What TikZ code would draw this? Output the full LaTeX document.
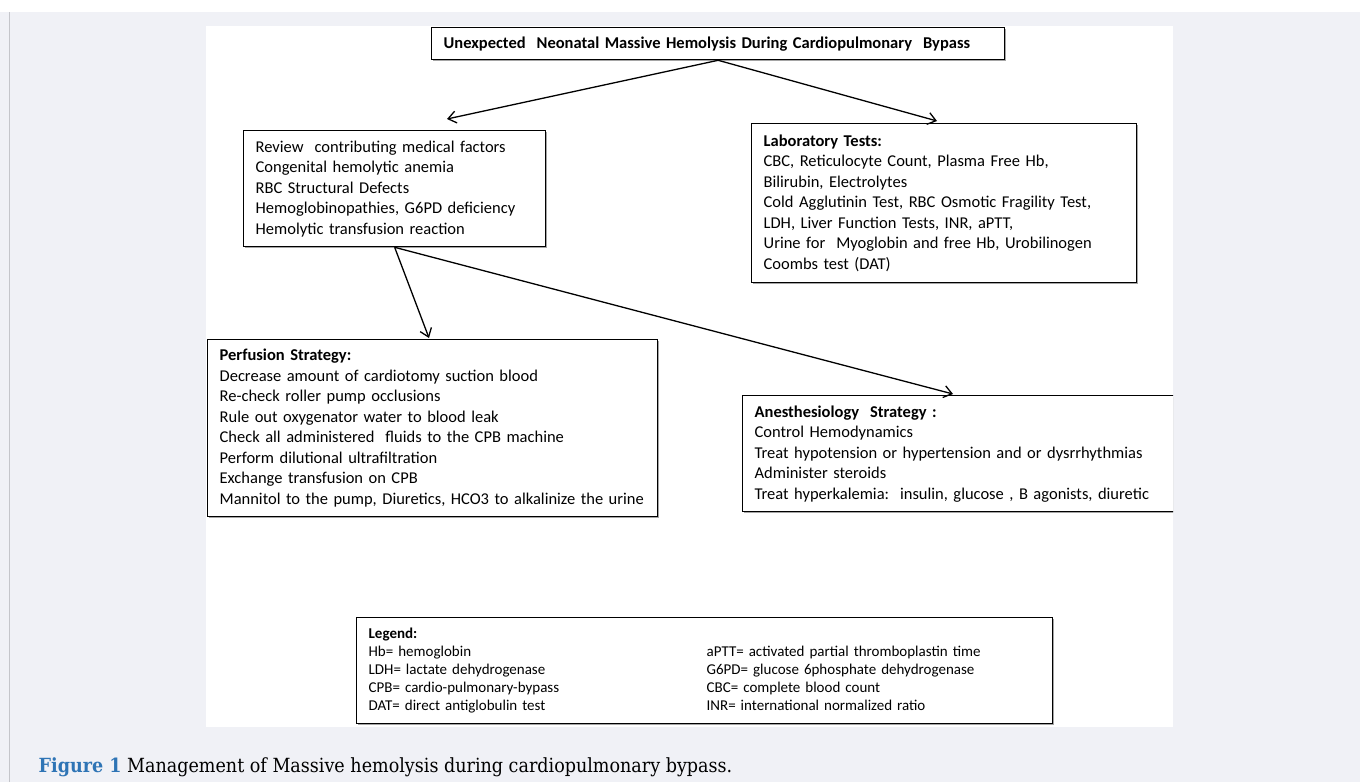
\documentclass[tikz,border=0pt]{standalone}
\usepackage{fontspec}
\setmainfont{Carlito}
\newfontfamily\capfont[FakeStretch=0.9]{DejaVu Serif}
\usepackage{tikz}
\usetikzlibrary{arrows.meta,shadows}
\definecolor{pagegray}{RGB}{240,241,246}
\definecolor{edgegray}{RGB}{196,197,202}
\definecolor{figblue}{RGB}{46,116,181}

\begin{document}
\begin{tikzpicture}[x=1pt, y=-1pt, line width=1.3pt,
	box/.style={draw, fill=white, anchor=north west, align=left, inner xsep=12pt, inner ysep=6pt,
		font=\fontsize{16.5}{20.5}\selectfont,
		drop shadow={shadow xshift=1pt, shadow yshift=-1.5pt, fill=black!50, opacity=0.7}},
	>={Straight Barb[length=8pt,width=12pt]}]
		\useasboundingbox (0,0) rectangle (1360,782);
		\fill[white] (0,0) rectangle (1360,782);
		\fill[pagegray] (0,12) rectangle (1360,782);
		\draw[edgegray, line width=1pt] (9,12) -- (9,782);
		\fill[white] (206,26) rectangle (1173,727);

		\begin{scope}
		\clip (206,26) rectangle (1173,727);
		\node[box, text width=549pt, minimum height=32pt, inner ysep=3pt] (1) at (431,27)
			{\textbf{Unexpected\ \ Neonatal Massive Hemolysis During Cardiopulmonary\ \ Bypass}};
		\node[box, text width=278pt, minimum height=116pt] (2) at (243,130)
			{Review\ \ contributing medical factors\\ Congenital hemolytic anemia\\ RBC Structural Defects\\
			Hemoglobinopathies, G6PD deficiency\\ Hemolytic transfusion reaction};
		\node[box, text width=361pt, minimum height=159pt] (3) at (751,123)
			{\textbf{Laboratory Tests:}\\ CBC, Reticulocyte Count, Plasma Free Hb,\\ Bilirubin, Electrolytes\\
			Cold Agglutinin Test, RBC Osmotic Fragility Test,\\ LDH, Liver Function Tests, INR, aPTT,\\
			Urine for\ \ Myoglobin and free Hb, Urobilinogen\\ Coombs test (DAT)};
		\node[box, text width=426pt, minimum height=177pt] (4) at (207,339)
			{\textbf{Perfusion Strategy:}\\ Decrease amount of cardiotomy suction blood\\ Re-check roller pump occlusions\\
			Rule out oxygenator water to blood leak\\ Check all administered\ \ fluids to the CPB machine\\
			Perform dilutional ultrafiltration\\ Exchange transfusion on CPB\\
			Mannitol to the pump, Diuretics, HCO3 to alkalinize the urine};
		\node[box, text width=424pt, minimum height=116pt] (5) at (742,395)
			{\textbf{Anesthesiology\ \ Strategy :}\\ Control Hemodynamics\\ Treat hypotension or hypertension and or dysrrhythmias\\
			Administer steroids\\ Treat hyperkalemia:\ \ insulin, glucose , B agonists, diuretic};
		\node[box, text width=672pt, minimum height=106pt, font=\fontsize{15}{18}\selectfont] (6) at (356,617)
			{\textbf{Legend:}\\
			\makebox[338pt][l]{Hb= hemoglobin}aPTT= activated partial thromboplastin time\\
			\makebox[338pt][l]{LDH= lactate dehydrogenase}G6PD= glucose 6phosphate dehydrogenase\\
			\makebox[338pt][l]{CPB= cardio-pulmonary-bypass}CBC= complete blood count\\
			\makebox[338pt][l]{DAT= direct antiglobulin test}INR= international normalized ratio};

		\coordinate (a) at (447,119);
		\coordinate (b) at (937,121);
		\coordinate (c) at (429,338);
		\coordinate (d) at (953,394);
		\draw[->] (1.south) to (a);
		\draw[->] (1.south) to (b);
		\draw[->] (2.south) to (c);
		\draw[->] (2.south) to (d);
		\end{scope}

		\node[anchor=west, inner sep=0pt, font=\capfont\fontsize{19.5}{23}\selectfont] (7) at (38,767)
			{\textcolor{figblue}{\bfseries Figure 1} Management of Massive hemolysis during cardiopulmonary bypass.};
	\end{tikzpicture}
\end{document}
